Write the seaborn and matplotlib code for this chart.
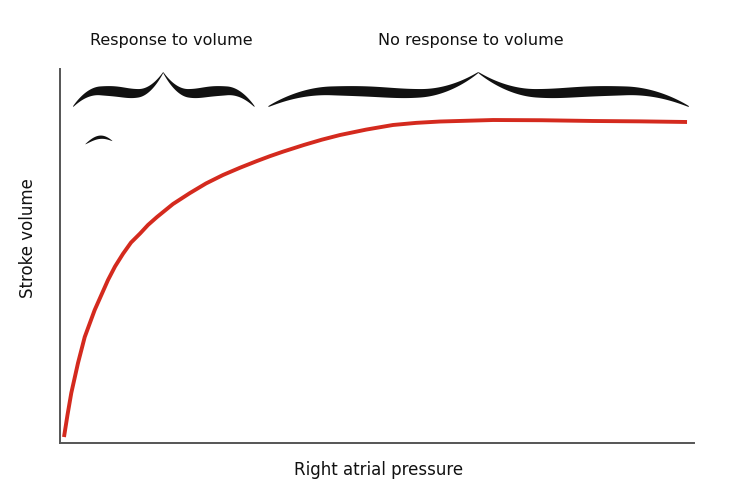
import numpy as np
import pandas as pd
import matplotlib
matplotlib.use("Agg")
import matplotlib.pyplot as plt
import seaborn as sns

# Frank-Starling curve values (arbitrary units)
right_atrial_pressure = [0.63, 1.18, 1.78, 2.84, 3.90, 5.47, 7.57, 8.68, 9.94, 11.20,
                         12.62, 13.88, 15.30, 17.82, 20.50, 23.03, 25.71, 28.39, 31.07,
                         33.12, 35.17, 38.49, 41.3, 44.16, 48.3, 52.52, 56.2, 59.94,
                         68.30, 76.0, 84.07, 91.5, 98.90]
stroke_volume = [1.60, 7.49, 13.37, 21.39, 28.34, 35.56, 43.58, 47.2, 50.6, 53.6,
                 56.0, 58.3, 60.43, 63.9, 66.84, 69.4, 71.66, 73.6, 75.4,
                 76.7, 77.9, 79.7, 81.1, 82.35, 83.8, 85.03, 85.6, 85.96,
                 86.36, 86.3, 86.10, 86.0, 85.83]

region_labels = ["Response to volume", "No response to volume"]
region_starts = [2.0, 32.8]
region_tips = [16.2, 65.9]
region_ends = [30.6, 99.1]
label_centers = [17.5, 64.8]

sns.set_style("white")
plt.rcParams['font.family'] = ['DejaVu Sans']

fig = plt.figure(figsize=(7.42, 4.98), dpi=100)
ax = fig.add_axes([60/742, 55/498, 634/742, 374/498])

df = pd.DataFrame({"pressure": right_atrial_pressure, "sv": stroke_volume})
sns.lineplot(data=df, x="pressure", y="sv", ax=ax, color="#d42a1e",
             linewidth=2.8, solid_capstyle="butt")

ax.set_xlim(0, 100)
ax.set_ylim(0, 100)
ax.set_xticks([])
ax.set_yticks([])
sns.despine(ax=ax)
for s in ["left", "bottom"]:
    ax.spines[s].set_color("#555555")
    ax.spines[s].set_linewidth(1.4)

ax.set_xlabel("Right atrial pressure", fontsize=12, color="#111111")
ax.set_ylabel("Stroke volume", fontsize=12, color="#111111")
ax.xaxis.set_label_coords(0.503, -0.048)
ax.yaxis.set_label_coords(-0.037, 0.548)


def brace(ax, x0, xm, x1, y_end=90.1, y_arm=94.3, y_tip=99.2, w=2.5):
    for a, b in [(x0, xm), (x1, xm)]:
        u = np.linspace(0, 1, 300)
        xs = a + (b - a) * u
        yc = np.full_like(u, y_arm)
        m1 = u < 0.3
        yc[m1] += (y_end - y_arm) * (1 - u[m1] / 0.3) ** 2
        yc -= 0.7 * np.exp(-((u - 0.68) / 0.18) ** 2)
        m2 = u > 0.72
        yc[m2] += (y_tip - y_arm + 0.7 * np.exp(-((1 - 0.68) / 0.18) ** 2)) * ((u[m2] - 0.72) / 0.28) ** 2.2
        th = w * np.sin(np.pi * u) ** 0.8 + 0.25
        ax.fill_between(xs, yc - th / 2, yc + th / 2, color="#111111",
                        linewidth=0, clip_on=False)


for lab, a, m, b, c in zip(region_labels, region_starts, region_tips, region_ends, label_centers):
    brace(ax, a, m, b)
    ax.text(c, 107.5, lab, ha="center", va="center",
            fontsize=11.5, color="#111111", clip_on=False)

# small stray brace fragment
u = np.linspace(0, 1, 60)
fx = 3.9 + 4.3 * u
fy = 80.0 + 1.9 * np.sin(np.pi * u * 0.85)
th = 0.9 * np.sin(np.pi * u) ** 0.7
ax.fill_between(fx, fy - th / 2, fy + th / 2, color="#111111", linewidth=0)

fig.savefig("out.png", dpi=100, facecolor="white")
